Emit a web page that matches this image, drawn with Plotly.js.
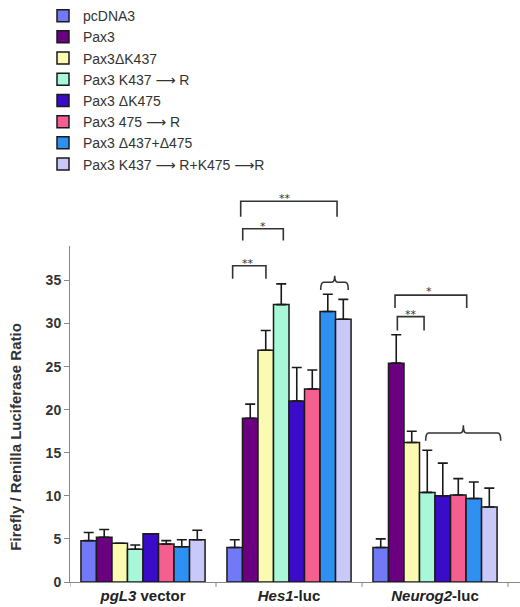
<!DOCTYPE html>
<html><head><meta charset="utf-8">
<script src="https://cdn.plot.ly/plotly-3.0.1.min.js"></script>
<style>html,body{margin:0;padding:0;background:#fff}#chart{width:520px;height:607px}</style>
</head><body><div id="chart"></div>
<script>
// ---- data ----
const categories = ['pgL3 vector', 'Hes1-luc', 'Neurog2-luc'];
const tickLabels = ['<b><i>pgL3</i> vector</b>', '<b><i>Hes1</i>-luc</b>', '<b><i>Neurog2</i>-luc</b>'];
const ARROW = '<span style="font-family:DejaVu Sans">⟶</span>';
const seriesNames = ['pcDNA3', 'Pax3', 'Pax3ΔK437', 'Pax3 K437 ' + ARROW + ' R', 'Pax3 ΔK475',
  'Pax3 475 ' + ARROW + ' R', 'Pax3 Δ437+Δ475', 'Pax3 K437 ' + ARROW + ' R+K475 ' + ARROW + 'R'];
const values = [
  [4.8, 4.0, 4.0],     // pcDNA3
  [5.2, 19.0, 25.4],   // Pax3
  [4.5, 26.9, 16.2],   // ΔK437
  [3.8, 32.2, 10.4],   // K437R
  [5.6, 21.0, 10.0],   // ΔK475
  [4.4, 22.4, 10.1],   // 475R
  [4.1, 31.4, 9.7],    // Δ437+Δ475
  [4.9, 30.5, 8.7]     // K437R+K475R
];
const errors = [
  [0.95, 0.9, 1.0],
  [0.9, 1.65, 3.3],
  [0, 2.3, 1.3],
  [0.5, 2.4, 4.9],
  [0, 3.9, 3.8],
  [0.4, 2.2, 1.9],
  [0.8, 2.0, 1.9],
  [1.1, 2.3, 2.2]
];
const colors = ['#7179f6', '#6a007f', '#fafab0', '#a9f7d9', '#3a0bc8', '#f45f8f', '#2e90f0', '#c9c9f9'];
const yTicks = [0, 5, 10, 15, 20, 25, 30, 35];
const yMax = 39;
// significance brackets: [x0, x1, yTop, yLeg, label, labelX, labelY] (category/data units)
const brackets = [
  [0.614, 0.842, 36.7, 35.2, '**', 0.717, 37.9],
  [0.683, 0.961, 41.0, 39.65, '*', 0.824, 42.2],
  [0.669, 1.329, 44.2, 42.4, '**', 0.973, 45.5],
  [1.726, 2.217, 33.3, 31.8, '*', 1.961, 34.7],
  [1.742, 1.925, 30.8, 29.2, '**', 1.834, 32.0]
];
// curly braces: [x0, x1, yTop, yEnd, peakX, peakY]
const braces = [
  [1.217, 1.406, 34.8, 33.9, 1.313, 35.55],
  [1.936, 2.450, 17.3, 16.4, 2.194, 18.2]
];

// ---- build ----
const idx = categories.map((c, i) => i);
const traces = seriesNames.map((name, s) => ({
  type: 'bar', name: name, x: idx, y: values[s],
  marker: {color: colors[s], line: {color: '#1a1a1a', width: 1.5}},
  error_y: {type: 'data', symmetric: false, array: errors[s], arrayminus: values[s].map(() => 0),
    color: '#1a1a1a', thickness: 1.6, width: 5, visible: true},
  cliponaxis: false
}));

const P = v => v / yMax; // data value -> paper y
const shapes = [];
const annotations = [];
brackets.forEach(b => {
  const [x0, x1, yt, yl, lab, lx, ly] = b;
  shapes.push({type: 'path', xref: 'x', yref: 'paper',
    path: `M${x0},${P(yl)} L${x0},${P(yt)} L${x1},${P(yt)} L${x1},${P(yl)}`,
    line: {color: '#333', width: 1.6}});
  annotations.push({xref: 'x', yref: 'paper', x: lx, y: P(ly), text: lab, showarrow: false,
    font: {family: 'DejaVu Sans, sans-serif', size: 11, color: '#333'}});
});
braces.forEach(b => {
  const [x0, x1, yt, ye, px, py] = b;
  const d = 0.02;
  const T = P(yt), E = P(ye), K = P(py);
  shapes.push({type: 'path', xref: 'x', yref: 'paper',
    path: `M${x0},${E} Q${x0},${T} ${x0 + d},${T} L${px - d},${T} Q${px},${T} ${px},${K} ` +
          `Q${px},${T} ${px + d},${T} L${x1 - d},${T} Q${x1},${T} ${x1},${E}`,
    line: {color: '#333', width: 1.6}});
});
// category boundary ticks on x axis
[-0.5, 0.5, 1.5, 2.5].forEach(b => shapes.push({type: 'line', xref: 'x', yref: 'paper',
  x0: b, x1: b, y0: 0, y1: -5 / 345, line: {color: '#888', width: 1}}));

const pad = '&nbsp;'.repeat(11);
const layout = {
  width: 520, height: 607,
  margin: {l: 70, r: 0, t: 237, b: 25},
  paper_bgcolor: '#fff', plot_bgcolor: '#fff',
  barmode: 'group', bargap: 0.15, bargroupgap: 0,
  font: {family: 'Liberation Sans, Arial, sans-serif', color: '#333'},
  showlegend: true,
  legend: {x: -0.06, xanchor: 'left', y: 1 + 237 / 345 + 0.045, yanchor: 'top',
    font: {size: 14, color: '#333'}, tracegroupgap: 0, itemwidth: 30,
    bgcolor: 'rgba(0,0,0,0)'},
  xaxis: {type: 'linear', range: [-0.5, 2.582], tickmode: 'array', tickvals: idx, ticktext: tickLabels,
    showline: true, linecolor: '#888', linewidth: 1, zeroline: false, showgrid: false,
    ticks: '', tickfont: {size: 15, color: '#222'}, fixedrange: true},
  yaxis: {range: [0, yMax], tickmode: 'array', tickvals: yTicks, ticktext: yTicks.map(String),
    showline: true, linecolor: '#888', linewidth: 1, ticks: 'outside', ticklen: 5, tickcolor: '#888',
    showgrid: false, zeroline: false, tickfont: {size: 14, color: '#333', weight: 'bold'},
    title: {text: '<b>Firefly / Renilla Luciferase Ratio' + pad + '</b>', font: {size: 15, color: '#333'}, standoff: 20}},
  shapes: shapes,
  annotations: annotations
};

Plotly.newPlot('chart', traces, layout, {displayModeBar: false, staticPlot: true});
</script></body></html>
